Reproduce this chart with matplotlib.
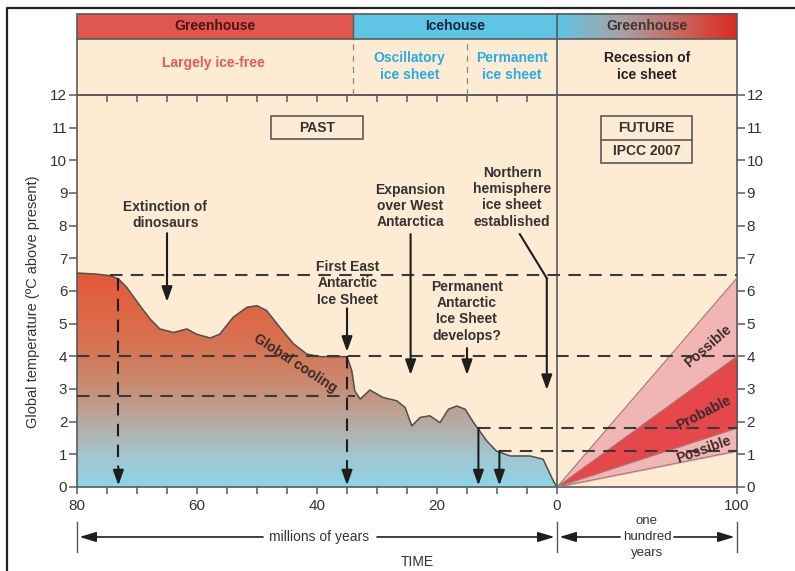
import numpy as np
import matplotlib.pyplot as plt
from matplotlib.colors import LinearSegmentedColormap
from matplotlib.patches import Rectangle, Polygon
from matplotlib.lines import Line2D

plt.rcParams['font.family'] = ['Liberation Sans', 'DejaVu Sans']

# ---------------------------------------------------------------
# data
# ---------------------------------------------------------------
# past record: millions of years ago / degC above present
past_age = [80, 77, 74.5, 73.1, 71.7, 69.5, 67.8, 66.2, 63.9, 61.7, 60.1, 57.8,
            56.2, 54.0, 51.7, 50.0, 48.4, 46.2, 43.9, 41.7, 39.5, 35.0, 34.2,
            33.7, 32.8, 31.2, 29.0, 26.7, 25.3, 24.2, 22.8, 21.2, 19.5, 18.1,
            16.7, 15.3, 13.9, 13.1, 11.7, 10.1, 7.8, 4.5, 2.3, 1.4, 0.6, 0]
past_temp = [6.55, 6.52, 6.47, 6.37, 6.11, 5.55, 5.14, 4.84, 4.73, 4.84, 4.68, 4.56,
             4.68, 5.19, 5.50, 5.55, 5.40, 4.89, 4.38, 4.07, 3.99, 3.99, 3.56,
             2.94, 2.69, 2.97, 2.74, 2.64, 2.43, 1.87, 2.13, 2.18, 1.97, 2.38,
             2.48, 2.38, 1.97, 1.77, 1.41, 1.10, 0.95, 0.95, 0.85, 0.49, 0.18, 0]

# IPCC 2007 projections: years from now / degC
future_years = [0, 100]
possible_high = [0, 6.4]
probable_high = [0, 4.0]
probable_low = [0, 1.8]
possible_low = [0, 1.1]

# dashed reference levels
ref_temp = [6.5, 4.0, 2.8, 1.8, 1.1]
ref_start_age = [74.5, 80, 80, 13.1, 9.6]
ref_end_age = [None, None, 33.6, None, None]  # None -> runs to 100 years

# drop lines to the time axis
drop_age = [73.1, 35.0, 13.1, 9.6]
drop_temp = [6.4, 4.0, 1.8, 1.1]
drop_dashed = [True, True, False, False]

# events
event_labels = ["Extinction of\ndinosaurs", "First East\nAntarctic\nIce Sheet",
                "Expansion\nover West\nAntarctica",
                "Permanent\nAntarctic\nIce Sheet\ndevelops?",
                "Northern\nhemisphere\nice sheet\nestablished"]
event_age = [65.0, 35.0, 24.4, 15.0, 1.7]
event_temp = [5.67, 4.14, 3.43, 3.43, 2.97]

past_ticks = [80, 60, 40, 20, 0]
future_ticks = [100]

# ---------------------------------------------------------------
FUT = 0.3  # one year in axis units (100 years drawn as 30 My wide)


def px(age):
    return -np.asarray(age, dtype=float)


def fx(yr):
    return np.asarray(yr, dtype=float) * FUT


DARK = '#3a3a3a'
EDGE = '#5a5a5a'
BEIGE = '#fdebd3'
RED = '#e1564f'
BLUE = '#5ec5e6'

fig = plt.figure(figsize=(7.95, 5.71), dpi=100)
ax = fig.add_axes([77 / 795, 84 / 571, 660 / 795, 392 / 571])
ax.set_facecolor(BEIGE)
ax.set_xlim(-80, 30)
ax.set_ylim(0, 12)

# outer frame (cut by the image edge at right and bottom)
fig.add_artist(Line2D([7 / 795, 7 / 795, 1.0], [0, 1 - 8 / 571, 1 - 8 / 571],
                      color='#222222', lw=1.6))

# ---------------- header bands ----------------
HB0, HB1 = 13.71, 14.48
ax.add_patch(Rectangle((-80, 12), 110, HB0 - 12, facecolor=BEIGE,
                       edgecolor='none', clip_on=False, zorder=0))
ax.add_patch(Rectangle((-80, HB0), 46, HB1 - HB0, facecolor=RED,
                       edgecolor='none', clip_on=False))
ax.add_patch(Rectangle((-34, HB0), 34, HB1 - HB0, facecolor=BLUE,
                       edgecolor='none', clip_on=False))
grad_cmap = LinearSegmentedColormap.from_list(
    'gh', [(0, BLUE), (0.35, '#a8a2a6'), (0.7, '#c9655c'), (1, '#dc2a22')])
ax.imshow(np.linspace(0, 1, 200).reshape(1, -1), cmap=grad_cmap,
          extent=(0, 30, HB0, HB1), aspect='auto', clip_on=False, zorder=1)
ax.add_patch(Rectangle((-80, 12), 110, HB1 - 12, facecolor='none',
                       edgecolor=EDGE, lw=1.2, clip_on=False, zorder=3))
ax.plot([-80, 30], [HB0, HB0], color=EDGE, lw=1.2, clip_on=False, zorder=3)
ax.plot([-34, -34], [HB0, HB1], color=EDGE, lw=1.0, clip_on=False, zorder=3)
for xd in (-34, -15):
    ax.plot([xd, xd], [12, HB0], color='#8a8a8a', lw=0.9, ls=(0, (5, 4)),
            clip_on=False, zorder=3)
ax.plot([0, 0], [0, HB1], color=EDGE, lw=1.2, clip_on=False, zorder=4)

hfont = dict(fontsize=10, fontweight='bold', ha='center', va='center')
ax.text(-57, 14.1, 'Greenhouse', color='#4a1414', **hfont)
ax.text(-17, 14.1, 'Icehouse', color='#16263a', **hfont)
ax.text(15, 14.1, 'Greenhouse', color='#3e3434', **hfont)
ax.text(-57.3, 12.98, 'Largely ice-free', color='#e05a5e', **hfont)
ax.text(-24.6, 12.87, 'Oscillatory\nice sheet', color='#25ade2',
        linespacing=1.2, **hfont)
ax.text(-7.5, 12.87, 'Permanent\nice sheet', color='#25ade2',
        linespacing=1.2, **hfont)
ax.text(15, 12.87, 'Recession of\nice sheet', color='#222222',
        linespacing=1.2, **hfont)

# ---------------- past curve with gradient fill ----------------
xs = px(past_age)
ys = np.array(past_temp)
poly = Polygon(np.column_stack([np.r_[xs, 0, -80], np.r_[ys, 0, 0]]),
               closed=True, facecolor='none', edgecolor='none')
ax.add_patch(poly)
fill_cmap = LinearSegmentedColormap.from_list(
    'cool', [(0, '#8dd4e7'), (0.15, '#a3c5ce'), (0.3, '#b6aaa2'),
             (0.45, '#c78f77'), (0.6, '#d27a5a'), (0.78, '#dc6947'),
             (1, '#e5573a')])
img = ax.imshow(np.linspace(0, 1, 256).reshape(-1, 1), cmap=fill_cmap,
                origin='lower', extent=(-80, 0, 0, 6.6), aspect='auto',
                zorder=2)
img.set_clip_path(poly)
ax.plot(xs, ys, color='#4f4f4f', lw=1.1, zorder=3)

# ---------------- future projections ----------------
fxs = fx(future_years)
ax.fill_between(fxs, probable_high, possible_high, color='#f1b6b3', zorder=2)
ax.fill_between(fxs, probable_low, probable_high, color='#e6474a', zorder=2)
ax.fill_between(fxs, possible_low, probable_low, color='#f1b6b3', zorder=2)
for s in (possible_high, probable_high, probable_low, possible_low):
    ax.plot(fxs, s, color='#9c7c7c', lw=0.8, zorder=3)

ax.set_xlim(-80, 30)
ax.set_ylim(0, 12)

# ---------------- dashed levels and drop lines ----------------
dash = (0, (6, 4))
for t, a0, a1 in zip(ref_temp, ref_start_age, ref_end_age):
    x1 = fx(100) if a1 is None else px(a1)
    ax.plot([px(a0), x1], [t, t], color=DARK, lw=1.5, ls=dash, zorder=5)

arrow_kw = dict(arrowstyle='-|>,head_length=0.9,head_width=0.32',
                color='#1e1e1e', lw=1.5, shrinkA=0, shrinkB=0)
for a, t, d in zip(drop_age, drop_temp, drop_dashed):
    if d:
        ax.plot([px(a), px(a)], [t, 0.6], color='#1e1e1e', lw=1.5, ls=dash,
                zorder=5)
        ax.annotate('', xy=(px(a), 0.05), xytext=(px(a), 0.6),
                    arrowprops=arrow_kw, zorder=6)
    else:
        ax.annotate('', xy=(px(a), 0.05), xytext=(px(a), t),
                    arrowprops=arrow_kw, zorder=6)

# ---------------- event annotations ----------------
tfont = dict(fontsize=10, fontweight='bold', color='#333333', ha='center',
             va='center', linespacing=1.22, zorder=6)
label_pos = [(-65.3, 8.33), (-34.95, 6.24), (-24.4, 8.6), (-15.05, 5.38),
             (-7.5, 8.87)]
tail_y = [7.77, 5.47, 7.74, 4.25, 6.39]
for lab, a, t, (lx, ly), ty in zip(event_labels, event_age, event_temp,
                                   label_pos, tail_y):
    ax.text(lx, ly, lab, **tfont)
    ax.annotate('', xy=(px(a), t), xytext=(px(a), ty), arrowprops=arrow_kw,
                zorder=6)
# bent leader for the northern hemisphere label
ax.plot([-6.2, px(event_age[4])], [7.74, 6.39], color='#1e1e1e', lw=1.5,
        zorder=6)

ax.text(-43.6, 3.8, 'Global cooling', rotation=-33, fontsize=10,
        fontweight='bold', color='#3a2a26', ha='center', va='center', zorder=6)
ax.text(25.1, 4.32, 'Possible', rotation=41, fontsize=10, fontweight='bold',
        color='#3a2a2a', ha='center', va='center', zorder=6)
ax.text(24.5, 2.28, 'Probable', rotation=27, fontsize=10, fontweight='bold',
        color='#3a2a2a', ha='center', va='center', zorder=6)
ax.text(24.4, 1.13, 'Possible', rotation=19.5, fontsize=10, fontweight='bold',
        color='#3a2a2a', ha='center', va='center', zorder=6)

# PAST / FUTURE boxes
ax.add_patch(Rectangle((-47.6, 10.65), 15.2, 0.71, facecolor='none',
                       edgecolor=EDGE, lw=1.2, zorder=6))
ax.text(-40, 11.0, 'PAST', fontsize=10, fontweight='bold', color='#333333',
        ha='center', va='center')
ax.add_patch(Rectangle((7.4, 9.93), 15.1, 1.43, facecolor='none',
                       edgecolor=EDGE, lw=1.2, zorder=6))
ax.plot([7.4, 22.5], [10.63, 10.63], color=EDGE, lw=1.2, zorder=6)
ax.text(14.95, 11.0, 'FUTURE', fontsize=10, fontweight='bold',
        color='#333333', ha='center', va='center')
ax.text(14.95, 10.29, 'IPCC 2007', fontsize=10, fontweight='bold',
        color='#333333', ha='center', va='center')

# ---------------- axes, ticks ----------------
for sp in ax.spines.values():
    sp.set_color(EDGE)
    sp.set_linewidth(1.2)

ax.set_xticks(list(px(past_ticks)) + list(fx(future_ticks)))
ax.set_xticklabels([str(v) for v in past_ticks + future_ticks])
ax.set_xticks(list(np.arange(-75, 0, 5)), minor=True)
ax.tick_params(axis='x', which='both', direction='out', length=5,
               color=EDGE, width=1.1, labelsize=11, labelcolor='#333333',
               pad=4)
ax.set_yticks(range(0, 13))
ax.tick_params(axis='y', direction='out', length=6, color=EDGE, width=1.1,
               left=True, right=True, labelleft=True, labelright=True,
               labelsize=11, labelcolor='#333333', pad=1)

top = ax.secondary_xaxis('top')
top.set_xticks(list(np.arange(-75, 0, 5)))
top.tick_params(direction='in', length=5, color=EDGE, width=1.1,
                labeltop=False)
top.spines['top'].set_visible(False)

fig.text(33 / 795, 1 - 302 / 571, 'Global temperature (ºC above present)',
         rotation=90, fontsize=10.5, color='#333333', ha='center',
         va='center')

# ---------------- time brackets below ----------------
for xb in (-80, 0, 30):
    ax.plot([xb, xb], [-1.07, -1.99], color='#555555', lw=1.0,
            clip_on=False)
bkw = dict(arrowstyle='-|>,head_length=1.0,head_width=0.3', color='#1e1e1e',
           lw=1.2, shrinkA=0, shrinkB=0)
yb = -1.53
ax.annotate('', xy=(-79.6, yb), xytext=(-49.0, yb), arrowprops=bkw,
            annotation_clip=False)
ax.annotate('', xy=(-0.4, yb), xytext=(-30.0, yb), arrowprops=bkw,
            annotation_clip=False)
ax.text(-39.6, yb, 'millions of years', fontsize=10, color='#333333',
        ha='center', va='center')
ax.annotate('', xy=(0.4, yb), xytext=(10.5, yb), arrowprops=bkw,
            annotation_clip=False)
ax.annotate('', xy=(29.6, yb), xytext=(19.5, yb), arrowprops=bkw,
            annotation_clip=False)
ax.text(15, yb, 'one\nhundred\nyears', fontsize=9.5, color='#333333',
        ha='center', va='center', linespacing=1.4)
ax.text(-23.3, -2.3, 'TIME', fontsize=10, color='#333333', ha='center',
        va='center')

fig.savefig('out.png', dpi=100, facecolor='white')
